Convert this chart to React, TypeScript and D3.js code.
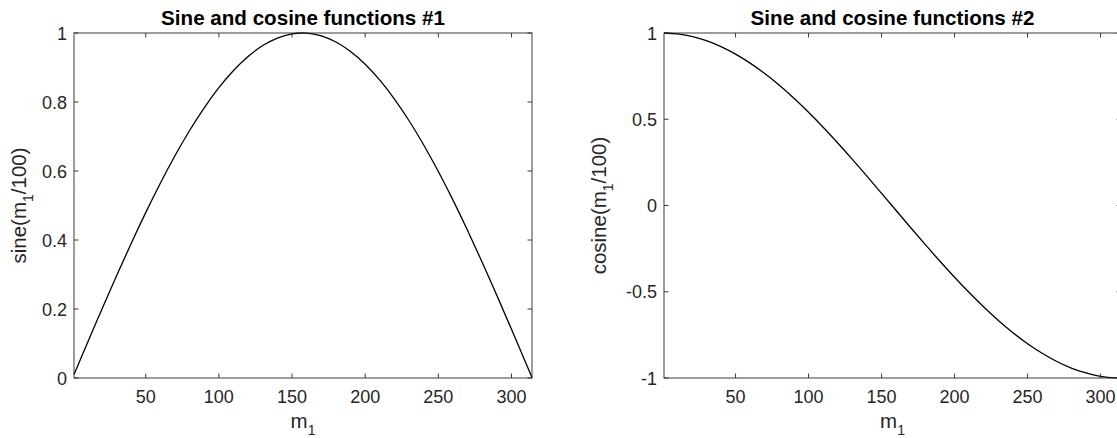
import React from "react";
import * as d3 from "d3";

// Sample points (m_1 values and curve heights)
const mValues = [1, 10, 20, 30, 40, 50, 60, 70, 80, 90, 100, 110, 120, 130, 140, 150, 160, 170, 180, 190, 200, 210, 220, 230, 240, 250, 260, 270, 280, 290, 300, 310, 314];
const sineValues = [0.01, 0.0998, 0.1987, 0.2955, 0.3894, 0.4794, 0.5646, 0.6442, 0.7174, 0.7833, 0.8415, 0.8912, 0.932, 0.9636, 0.9854, 0.9975, 0.9996, 0.9917, 0.9738, 0.9463, 0.9093, 0.8632, 0.8085, 0.7457, 0.6755, 0.5985, 0.5155, 0.4274, 0.335, 0.2392, 0.1411, 0.0416, 0.0016];
const cosineValues = [1.0, 0.995, 0.98, 0.9553, 0.9211, 0.8776, 0.8253, 0.7648, 0.6967, 0.6216, 0.5403, 0.4536, 0.3624, 0.2675, 0.17, 0.0707, -0.0292, -0.1288, -0.2272, -0.3233, -0.4161, -0.5048, -0.5885, -0.6663, -0.7374, -0.8011, -0.8569, -0.9041, -0.9422, -0.971, -0.99, -0.9991, -1.0];

const xTicks = [50, 100, 150, 200, 250, 300];
const yTicks1 = [0, 0.2, 0.4, 0.6, 0.8, 1];
const yTickLabels1 = ["0", "0.2", "0.4", "0.6", "0.8", "1"];
const yTicks2 = [-1, -0.5, 0, 0.5, 1];
const yTickLabels2 = ["-1", "-0.5", "0", "0.5", "1"];

const W = 1117;
const H = 438;
const FONT = "'Liberation Sans', Arial, Helvetica, sans-serif";
const AXC = "#262626";
const TICK = 4.5;
const TICK_FS = 18;
const LABEL_FS = 20.5;
const SUB_FS = 14;

type PanelProps = {
  left: number;
  right: number;
  top: number;
  bottom: number;
  yDomain: [number, number];
  values: number[];
  yTicks: number[];
  yTickLabels: string[];
  title: string;
  yLabelPrefix: string;
  yLabelX: number;
};

function Panel(p: PanelProps) {
  const x = d3.scaleLinear().domain([1, 314]).range([p.left, p.right]);
  const y = d3.scaleLinear().domain(p.yDomain).range([p.bottom, p.top]);
  const pts = mValues.map((m, i) => [m, p.values[i]] as [number, number]);
  const line = d3
    .line<[number, number]>()
    .x((d) => x(d[0]))
    .y((d) => y(d[1]))
    .curve(d3.curveNatural);
  const cx = (p.left + p.right) / 2;
  const cy = (p.top + p.bottom) / 2;
  return (
    <g>
      <path d={line(pts) || ""} fill="none" stroke="#000" strokeWidth={1.3} />
      <rect x={p.left} y={p.top} width={p.right - p.left} height={p.bottom - p.top} fill="none" stroke={AXC} strokeWidth={0.9} />
      {xTicks.map((t) => (
        <g key={"x" + t}>
          <line x1={x(t)} x2={x(t)} y1={p.bottom} y2={p.bottom - TICK} stroke={AXC} strokeWidth={0.9} />
          <line x1={x(t)} x2={x(t)} y1={p.top} y2={p.top + TICK} stroke={AXC} strokeWidth={0.9} />
          <text x={x(t)} y={p.bottom + 25} textAnchor="middle" fontSize={TICK_FS} fill={AXC} fontFamily={FONT}>
            {t}
          </text>
        </g>
      ))}
      {p.yTicks.map((t, i) => (
        <g key={"y" + t}>
          <line x1={p.left} x2={p.left + TICK} y1={y(t)} y2={y(t)} stroke={AXC} strokeWidth={0.9} />
          <line x1={p.right} x2={p.right - TICK} y1={y(t)} y2={y(t)} stroke={AXC} strokeWidth={0.9} />
          <text x={p.left - 7} y={y(t) + 6.5} textAnchor="end" fontSize={TICK_FS} fill={AXC} fontFamily={FONT}>
            {p.yTickLabels[i]}
          </text>
        </g>
      ))}
      <text x={cx} y={25} textAnchor="middle" fontSize={20.6} fontWeight="bold" fill="#000" fontFamily={FONT}>
        {p.title}
      </text>
      <text x={cx} y={428} textAnchor="middle" fontSize={LABEL_FS} fill={AXC} fontFamily={FONT}>
        m<tspan fontSize={SUB_FS} dy={7}>1</tspan>
      </text>
      <text
        transform={`translate(${p.yLabelX},${cy}) rotate(-90)`}
        textAnchor="middle"
        fontSize={LABEL_FS}
        fill={AXC}
        fontFamily={FONT}
      >
        {p.yLabelPrefix}(m<tspan fontSize={SUB_FS} dy={7}>1</tspan>
        <tspan dy={-7}>/100)</tspan>
      </text>
    </g>
  );
}

export default function App() {
  return (
    <svg
      width={W}
      height={H}
      style={{ position: "absolute", left: 0, top: 0, background: "#fff", overflow: "hidden" }}
    >
      <rect x={0} y={0} width={W} height={H} fill="#fff" />
      <Panel
        left={74}
        right={532}
        top={33}
        bottom={378}
        yDomain={[0, 1]}
        values={sineValues}
        yTicks={yTicks1}
        yTickLabels={yTickLabels1}
        title="Sine and cosine functions #1"
        yLabelPrefix="sine"
        yLabelX={26}
      />
      <Panel
        left={664}
        right={1121}
        top={33}
        bottom={378}
        yDomain={[-1, 1]}
        values={cosineValues}
        yTicks={yTicks2}
        yTickLabels={yTickLabels2}
        title="Sine and cosine functions #2"
        yLabelPrefix="cosine"
        yLabelX={606}
      />
    </svg>
  );
}
